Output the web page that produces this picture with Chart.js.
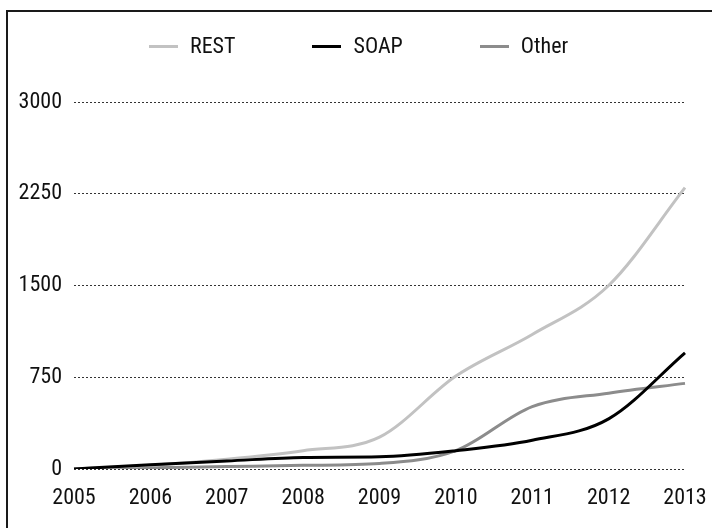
<!DOCTYPE html>
<html>
<head>
<meta charset="utf-8">
<script src="https://cdn.jsdelivr.net/npm/chart.js@4/dist/chart.umd.min.js"></script>
<style>
  html, body { margin: 0; padding: 0; width: 712px; height: 528px; overflow: hidden; background: #fff; }
  #frame { position: absolute; left: 6px; top: 10px; width: 900px; height: 700px; border: 2px solid #1a1a1a; box-sizing: border-box; }
  #wrap { position: absolute; left: 0; top: 0; width: 712px; height: 528px; }
  #legend { position: absolute; left: 149px; top: 32px; display: flex; gap: 77px; align-items: center;
            font-family: "Roboto Condensed", sans-serif; font-size: 22px; color: #111; }
  .item { display: flex; align-items: center; }
  .mark { width: 29px; height: 3px; margin-right: 12px; }
  .txt { line-height: 28px; }
</style>
</head>
<body>
<div id="frame"></div>
<div id="wrap"><canvas id="c" width="712" height="528"></canvas></div>
<div id="legend"></div>
<script>
const years = ["2005", "2006", "2007", "2008", "2009", "2010", "2011", "2012", "2013"];
const restValues  = [0, 30, 80, 150, 260, 760, 1100, 1500, 2300];
const soapValues  = [0, 35, 65, 95, 100, 150, 235, 410, 950];
const otherValues = [0, 10, 20, 30, 45, 150, 510, 620, 700];
const yTicks = [0, 750, 1500, 2250, 3000];
const seriesNames = ["REST", "SOAP", "Other"];
const seriesColors = ["#c2c2c2", "#000000", "#8c8c8c"];

const FONT = "'Roboto Condensed', sans-serif";
Chart.defaults.font.family = FONT;
Chart.defaults.font.size = 22;
Chart.defaults.color = "#111";

const seriesData = [restValues, soapValues, otherValues];
const drawOrder = [2, 1, 3];
const datasets = seriesNames.map((name, i) => ({
  label: name,
  data: seriesData[i],
  borderColor: seriesColors[i],
  backgroundColor: seriesColors[i],
  borderWidth: 3,
  pointRadius: 0,
  fill: false,
  order: drawOrder[i],
  cubicInterpolationMode: "monotone"
}));

new Chart(document.getElementById("c"), {
  type: "line",
  data: { labels: years, datasets },
  options: {
    responsive: false,
    animation: false,
    devicePixelRatio: 1,
    layout: { padding: { left: 0, right: 27, top: 102, bottom: 0 } },
    plugins: { legend: { display: false }, tooltip: { enabled: false } },
    scales: {
      x: {
        offset: false,
        grid: { display: false, drawTicks: false },
        border: { display: false },
        ticks: { padding: 16, maxRotation: 0, autoSkip: false, color: "#111" },
        afterFit: s => { s.height = 59; s.paddingLeft = 0; s.paddingRight = 0; }
      },
      y: {
        min: 0, max: 3000,
        afterBuildTicks: s => { s.ticks = yTicks.map(v => ({ value: v })); },
        afterFit: s => { s.width = 74; s.paddingTop = 0; s.paddingBottom = 0; },
        grid: { color: "#333", lineWidth: 1, drawTicks: false, tickLength: 0 },
        border: { display: false, dash: [2, 2] },
        ticks: { padding: 12, color: "#111", callback: v => String(v) }
      }
    }
  }
});

const leg = document.getElementById("legend");
seriesNames.forEach((name, i) => {
  const it = document.createElement("div"); it.className = "item";
  const m = document.createElement("div"); m.className = "mark"; m.style.background = seriesColors[i];
  const t = document.createElement("span"); t.className = "txt"; t.textContent = name;
  it.appendChild(m); it.appendChild(t); leg.appendChild(it);
});
</script>
</body>
</html>
